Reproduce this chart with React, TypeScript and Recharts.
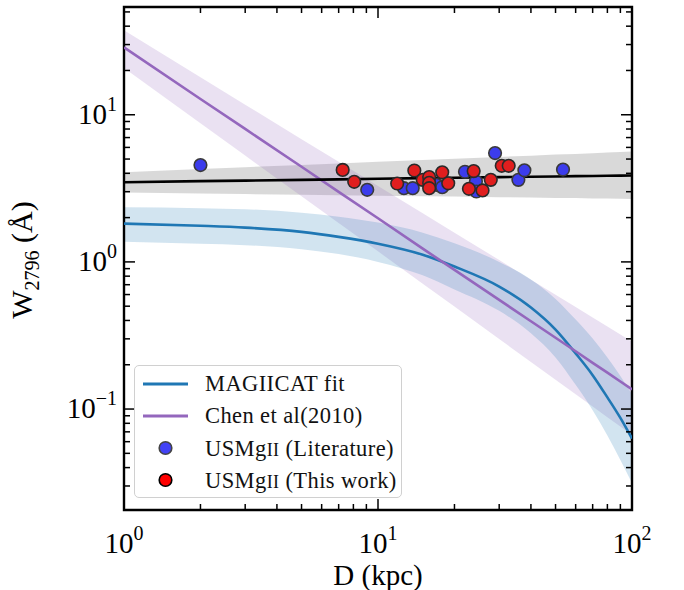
import React from "react";
import {
  ComposedChart,
  Area,
  Line,
  Scatter,
  XAxis,
  YAxis,
  ReferenceArea,
} from "recharts";

// distance grid (kpc) the model curves are sampled on
const distGrid = [1, 2, 3, 5, 7, 10, 15, 20, 30, 40, 50, 60, 70, 80, 90, 100];

// MAGIICAT log-linear fit and its 1-sigma band (Angstrom)
const magiicatFit = [1.82, 1.76, 1.71, 1.6, 1.48, 1.33, 1.12, 0.93, 0.68, 0.49, 0.347, 0.239, 0.17, 0.12, 0.087, 0.063];
const magiicatHigh = [2.35, 2.32, 2.28, 2.16, 2.03, 1.85, 1.58, 1.34, 1.0, 0.76, 0.56, 0.406, 0.302, 0.224, 0.168, 0.126];
const magiicatLow = [1.37, 1.33, 1.3, 1.22, 1.13, 1.0, 0.81, 0.65, 0.465, 0.327, 0.224, 0.146, 0.098, 0.066, 0.045, 0.0314];

// Chen et al. (2010) power law and band
const chenFit = [28.7, 12.8, 8.01, 4.43, 2.99, 1.98, 1.23, 0.883, 0.552, 0.395, 0.305, 0.247, 0.206, 0.177, 0.154, 0.136];
const chenHigh = [37.5, 18.0, 11.7, 6.82, 4.79, 3.28, 2.14, 1.58, 1.03, 0.757, 0.597, 0.493, 0.419, 0.364, 0.321, 0.287];
const chenLow = [20.8, 8.77, 5.28, 2.79, 1.84, 1.18, 0.711, 0.497, 0.299, 0.209, 0.158, 0.126, 0.104, 0.0881, 0.076, 0.0667];

// USMgII fit (black) and band (grey)
const usmgFit = [3.48, 3.54, 3.57, 3.61, 3.64, 3.67, 3.71, 3.73, 3.77, 3.79, 3.81, 3.83, 3.84, 3.85, 3.86, 3.87];
const usmgHigh = [4.07, 4.28, 4.4, 4.56, 4.67, 4.79, 4.92, 5.02, 5.17, 5.27, 5.36, 5.42, 5.48, 5.53, 5.58, 5.63];
const usmgLow = [2.96, 2.92, 2.89, 2.86, 2.84, 2.82, 2.79, 2.78, 2.75, 2.74, 2.72, 2.72, 2.7, 2.7, 2.69, 2.68];

// USMgII absorbers from the literature
const litD = [2.0, 9.07, 12.65, 13.7, 17.0, 17.9, 22.0, 24.3, 24.4, 28.9, 35.7, 37.7, 53.5];
const litW = [4.55, 3.09, 3.17, 3.17, 3.34, 3.22, 4.1, 3.52, 3.01, 5.49, 3.61, 4.19, 4.24];

// USMgII absorbers from this work
const newD = [7.26, 8.06, 11.9, 13.9, 15.0, 15.9, 15.9, 15.9, 17.9, 18.9, 23.8, 22.8, 25.8, 27.8, 30.7, 32.7];
const newW = [4.22, 3.5, 3.41, 4.18, 3.61, 3.77, 3.45, 3.17, 4.06, 3.42, 4.14, 3.14, 3.06, 3.61, 4.5, 4.5];

const xTicks = [1, 2, 3, 4, 5, 6, 7, 8, 9, 10, 20, 30, 40, 50, 60, 70, 80, 90, 100];
const yTicks = [
  0.03, 0.04, 0.05, 0.06, 0.07, 0.08, 0.09, 0.1, 0.2, 0.3, 0.4, 0.5, 0.6, 0.7, 0.8, 0.9,
  1, 2, 3, 4, 5, 6, 7, 8, 9, 10, 20, 30, 40, 50,
];
const xDomain = [1, 100];
const yDomain = [0.0206, 54];

const curveRows = distGrid.map((d, i) => ({
  d,
  magiicat: magiicatFit[i],
  magiicatBand: [magiicatLow[i], magiicatHigh[i]],
  chen: chenFit[i],
  chenBand: [chenLow[i], chenHigh[i]],
  usmg: usmgFit[i],
  usmgBand: [usmgLow[i], usmgHigh[i]],
}));
const litPoints = litD.map((d, i) => ({ d, w: litW[i] }));
const newPoints = newD.map((d, i) => ({ d, w: newW[i] }));

const FONT = "'Liberation Serif', 'Times New Roman', serif";
const W = 684;
const H = 590;
const LEFT = 124;
const TOP = 7;
const RIGHT = 632;
const BOTTOM = 510;

const BLUE = "#1f77b4";
const PURPLE = "#9467bd";

const isMajor = (v: number) => Math.abs(Math.log10(v) - Math.round(Math.log10(v))) < 1e-6;
const expText = (v: number) => {
  const e = Math.round(Math.log10(v));
  return e < 0 ? "\u2212" + Math.abs(e) : String(e);
};

const XTick = (props: any) => {
  const { x, payload } = props;
  const v = payload.value;
  const major = isMajor(v);
  const len = major ? 11 : 6;
  return (
    <g>
      <line x1={x} x2={x} y1={BOTTOM} y2={BOTTOM - len} stroke="#000" strokeWidth={1.5} />
      <line x1={x} x2={x} y1={TOP} y2={TOP + len} stroke="#000" strokeWidth={1.5} />
      {major && (
        <text x={x} y={BOTTOM + 43} textAnchor="middle" fontFamily={FONT} fontSize={29} fill="#000">
          10
          <tspan dy={-13} fontSize={20}>
            {expText(v)}
          </tspan>
        </text>
      )}
    </g>
  );
};

const YTick = (props: any) => {
  const { y, payload } = props;
  const v = payload.value;
  const major = isMajor(v);
  const len = major ? 11 : 6;
  return (
    <g>
      <line x1={LEFT} x2={LEFT + len} y1={y} y2={y} stroke="#000" strokeWidth={1.5} />
      <line x1={RIGHT} x2={RIGHT - len} y1={y} y2={y} stroke="#000" strokeWidth={1.5} />
      {major && (
        <text x={117} y={y + 9} textAnchor="end" fontFamily={FONT} fontSize={29} fill="#000">
          10
          <tspan dy={-13} fontSize={20}>
            {expText(v)}
          </tspan>
        </text>
      )}
    </g>
  );
};

const dot = (fill: string, stroke: string) => (p: any) =>
  <circle cx={p.cx} cy={p.cy} r={6.3} fill={fill} stroke={stroke} strokeWidth={1.6} />;

const LegendBox = () => {
  const rows = [
    { kind: "line", color: BLUE, label: <>MAGIICAT fit</> },
    { kind: "line", color: PURPLE, label: <>Chen et al(2010)</> },
    {
      kind: "dot",
      color: "#4242f5",
      edge: "#444",
      label: (
        <>
          USMg<span style={{ fontVariant: "small-caps", fontSize: 25 }}>ii</span> (Literature)
        </>
      ),
    },
    {
      kind: "dot",
      color: "#ff0000",
      edge: "#000",
      label: (
        <>
          USMg<span style={{ fontVariant: "small-caps", fontSize: 25 }}>ii</span> (This work)
        </>
      ),
    },
  ];
  return (
    <div
      style={{
        position: "absolute",
        left: 134,
        top: 365,
        width: 266,
        height: 131,
        border: "1.5px solid #d0d0d0",
        borderRadius: 5,
        background: "rgba(255,255,255,0.8)",
        fontFamily: FONT,
        fontSize: 22.5,
        letterSpacing: 0.4,
        color: "#111",
      }}
    >
      {rows.map((r, i) => (
        <div
          key={i}
          style={{ position: "absolute", left: 0, top: 2 + i * 32, height: 32, display: "flex", alignItems: "center" }}
        >
          <svg width={70} height={32} style={{ display: "block" }}>
            {r.kind === "line" ? (
              <line x1={8} x2={53} y1={16} y2={16} stroke={r.color} strokeWidth={3} />
            ) : (
              <circle cx={30.5} cy={16} r={6.3} fill={r.color} stroke={r.edge} strokeWidth={1.6} />
            )}
          </svg>
          <span style={{ whiteSpace: "nowrap" }}>{r.label}</span>
        </div>
      ))}
    </div>
  );
};

export default function App() {
  return (
    <div style={{ position: "absolute", left: 0, top: 0, width: W, height: H, background: "#fff" }}>
      <ComposedChart
        width={W}
        height={H}
        data={curveRows}
        margin={{ top: TOP, right: W - RIGHT, bottom: H - BOTTOM - 30, left: LEFT - 60 }}
      >
        <Area
          dataKey="usmgBand"
          type="linear"
          fill="#808080"
          fillOpacity={0.3}
          stroke="none"
          isAnimationActive={false}
        />
        <Area
          dataKey="chenBand"
          type="linear"
          fill={PURPLE}
          fillOpacity={0.2}
          stroke="none"
          isAnimationActive={false}
        />
        <Area
          dataKey="magiicatBand"
          type="monotone"
          fill={BLUE}
          fillOpacity={0.2}
          stroke="none"
          isAnimationActive={false}
        />
        <Line dataKey="magiicat" type="monotone" stroke={BLUE} strokeWidth={2.6} dot={false} isAnimationActive={false} />
        <Line dataKey="chen" type="linear" stroke={PURPLE} strokeWidth={2.6} dot={false} isAnimationActive={false} />
        <Line dataKey="usmg" type="linear" stroke="#000" strokeWidth={2.6} dot={false} isAnimationActive={false} />
        <Scatter data={litPoints} dataKey="w" shape={dot("#3c3cec", "#3a3a3a")} isAnimationActive={false} />
        <Scatter data={newPoints} dataKey="w" shape={dot("#e01e1e", "#2a2a2a")} isAnimationActive={false} />
        <XAxis
          dataKey="d"
          type="number"
          scale="log"
          domain={xDomain}
          allowDataOverflow
          ticks={xTicks}
          interval={0}
          tick={<XTick />}
          tickLine={false}
          axisLine={false}
          height={30}
        />
        <YAxis
          type="number"
          scale="log"
          domain={yDomain}
          allowDataOverflow
          ticks={yTicks}
          interval={0}
          tick={<YTick />}
          tickLine={false}
          axisLine={false}
          width={60}
        />
        <ReferenceArea
          x1={xDomain[0]}
          x2={xDomain[1]}
          y1={yDomain[0]}
          y2={yDomain[1]}
          fill="none"
          stroke="#000"
          strokeWidth={2.4}
          ifOverflow="visible"
        />
        <text x={32} y={260} transform="rotate(-90 32 260)" textAnchor="middle" fontFamily={FONT} fontSize={30} fill="#000">
          W
          <tspan dy={7} fontSize={20}>
            2796
          </tspan>
          <tspan dy={-7}> (Å)</tspan>
        </text>
        <text x={378} y={585} textAnchor="middle" fontFamily={FONT} fontSize={29} fill="#000">
          D (kpc)
        </text>
      </ComposedChart>
      <LegendBox />
    </div>
  );
}
